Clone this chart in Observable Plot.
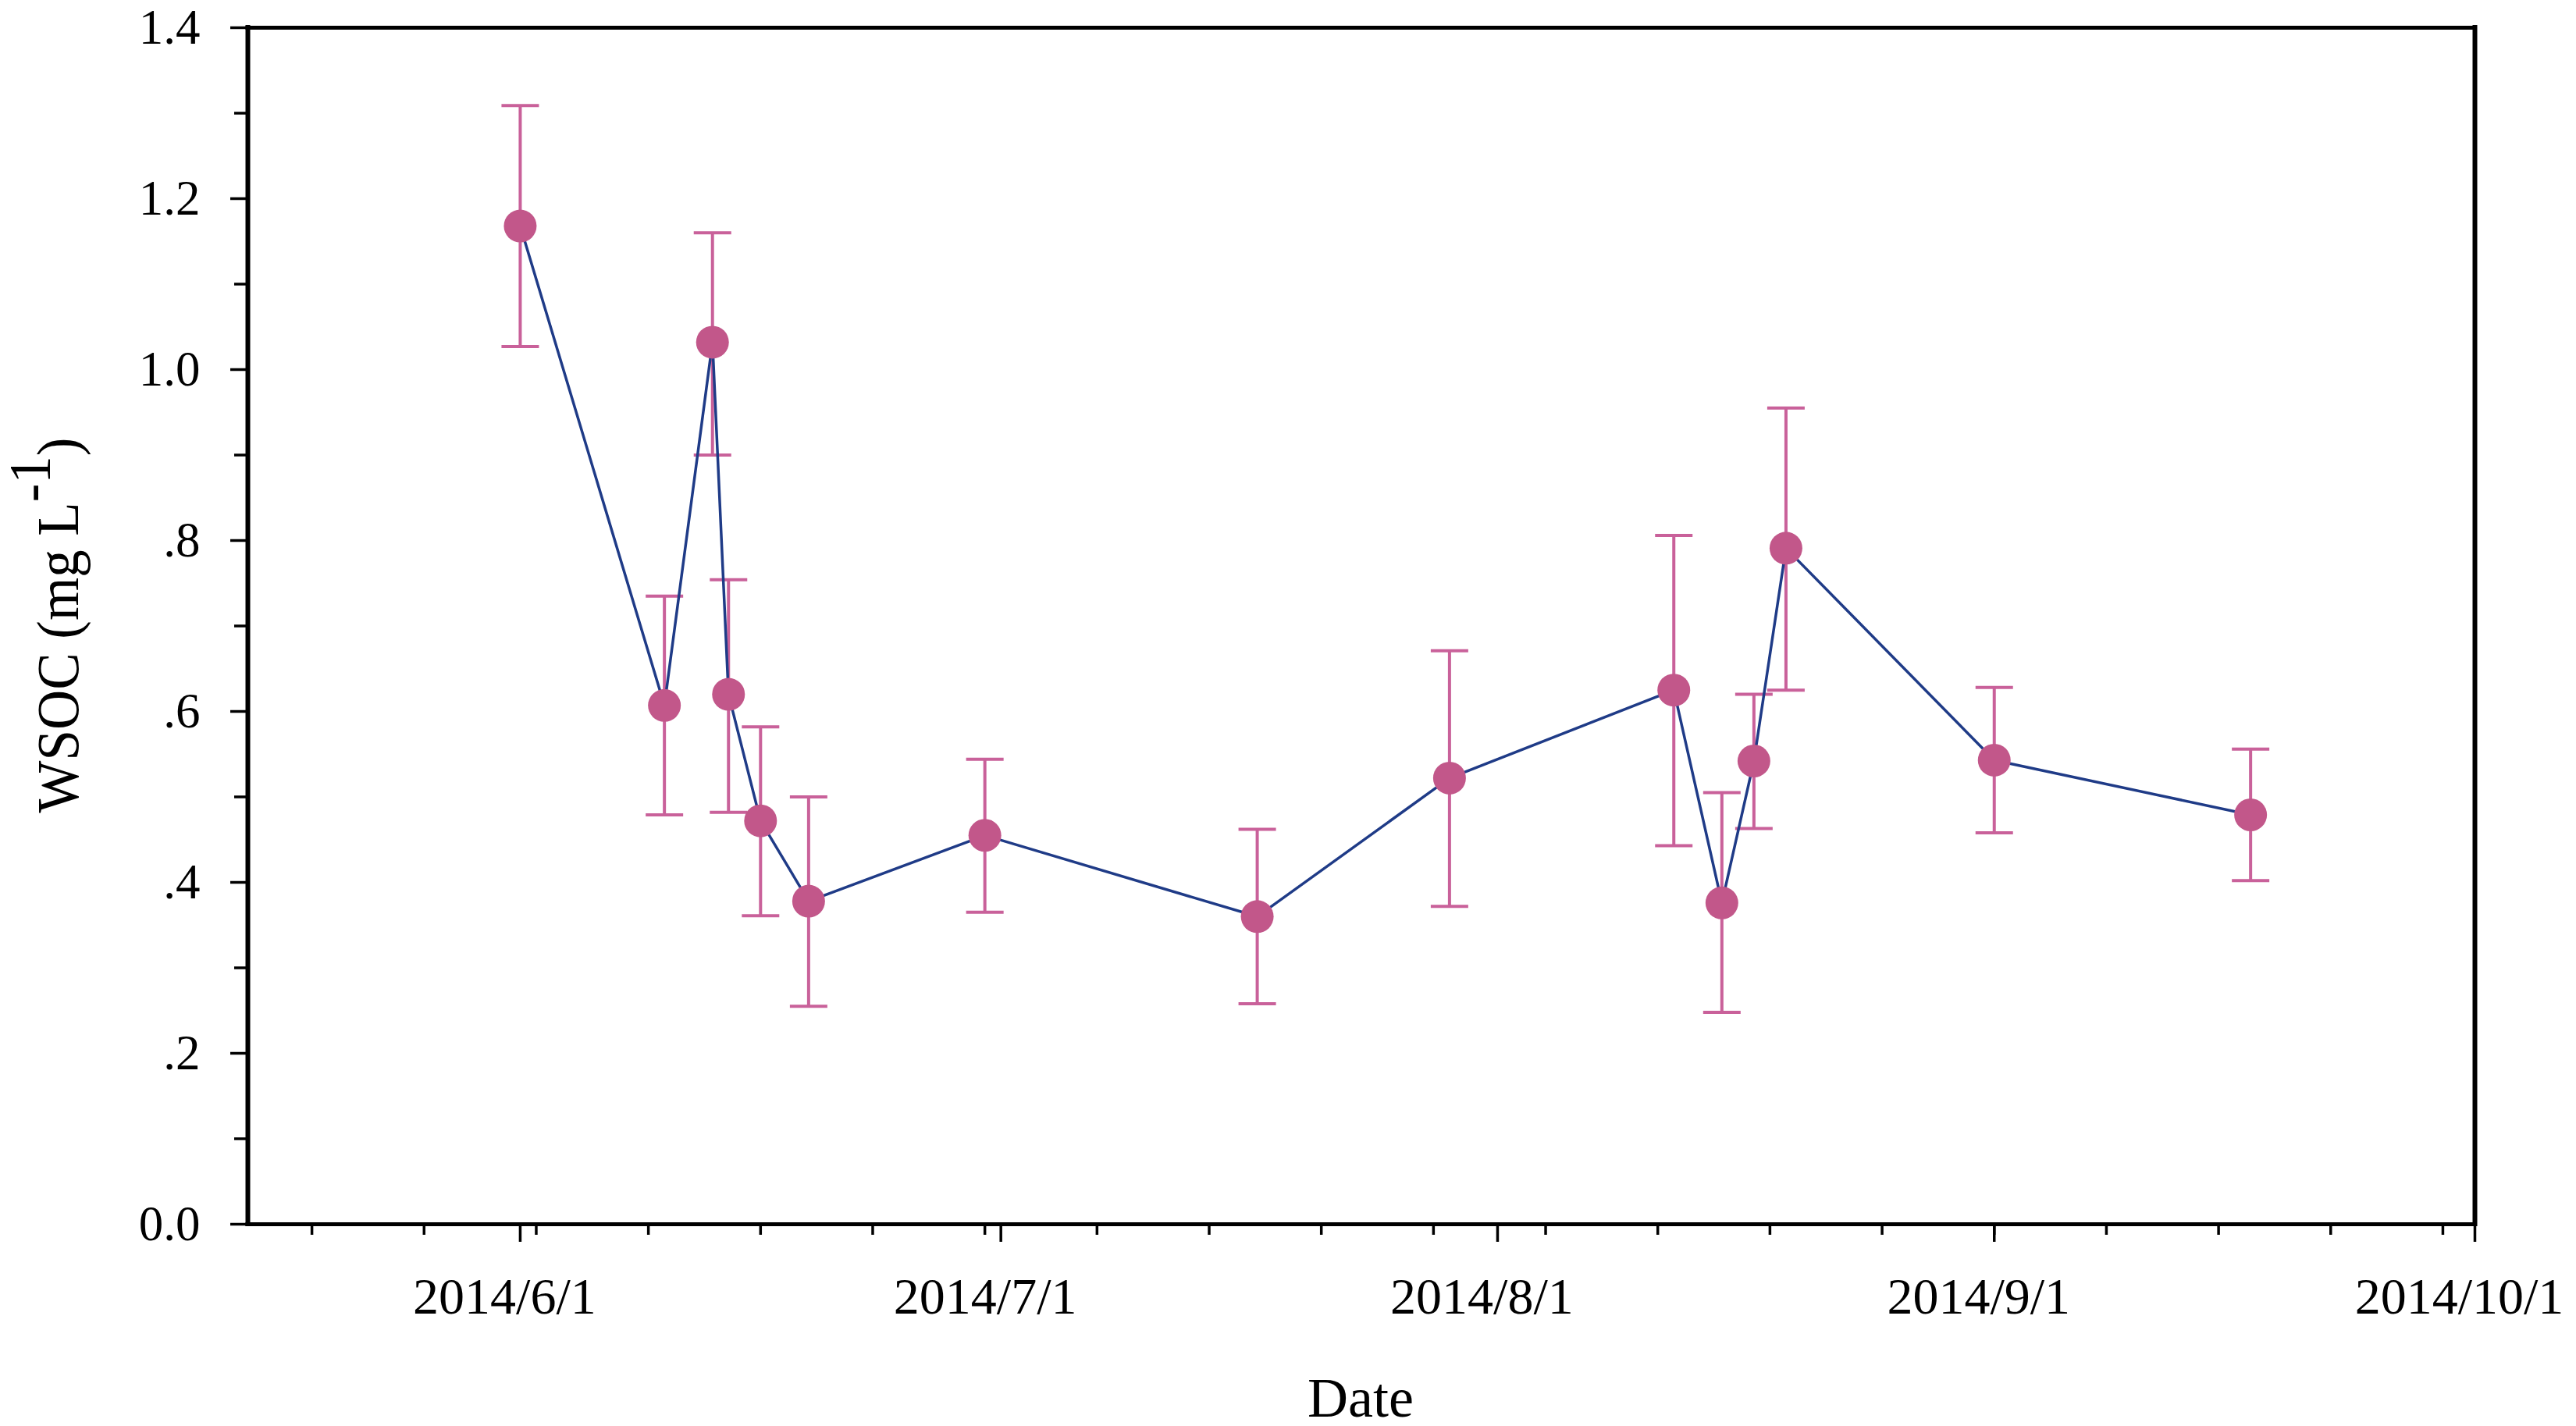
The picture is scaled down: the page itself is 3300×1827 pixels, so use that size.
<!DOCTYPE html>
<html>
<head>
<meta charset="utf-8">
<script src="https://cdn.jsdelivr.net/npm/d3@7"></script>
<script src="https://cdn.jsdelivr.net/npm/@observablehq/plot@0.6"></script>
<style>
  html, body { margin: 0; padding: 0; background: #ffffff; }
  #chart { width: 3300px; height: 1827px; }
</style>
</head>
<body>
<div id="chart"></div>
<script>
// ---- data ----
const dates = ["2014-06-01","2014-06-10","2014-06-13","2014-06-14","2014-06-16","2014-06-19","2014-06-30",
               "2014-07-17","2014-07-29","2014-08-12","2014-08-15","2014-08-17","2014-08-19","2014-09-01","2014-09-17"];
const wsoc  = [1.168, 0.607, 1.032, 0.620, 0.472, 0.378, 0.455, 0.360, 0.522, 0.625, 0.376, 0.542, 0.791, 0.543, 0.479];
const upper = [1.309, 0.735, 1.160, 0.754, 0.582, 0.500, 0.544, 0.462, 0.671, 0.806, 0.505, 0.620, 0.955, 0.628, 0.556];
const lower = [1.027, 0.479, 0.900, 0.482, 0.361, 0.255, 0.365, 0.258, 0.372, 0.443, 0.248, 0.463, 0.625, 0.458, 0.402];

const yTicks      = [0, 0.2, 0.4, 0.6, 0.8, 1.0, 1.2, 1.4];
const yTickLabels = ["0.0", ".2", ".4", ".6", ".8", "1.0", "1.2", "1.4"];
const yMinorTicks = [0.1, 0.3, 0.5, 0.7, 0.9, 1.1, 1.3];
const xMajorTicks = ["2014-06-01", "2014-07-01", "2014-08-01", "2014-09-01", "2014-10-01"];
const xDomain     = ["2014-05-15", "2014-10-01"];
const yDomain     = [0, 1.4];

const xTitle = "Date";
const yTitleMain = "WSOC (mg L";
const yTitleSup = "-1";
const yTitleEnd = ")";

// ---- styles ----
const dotColor = "#c2578a";
const barColor = "#c9619a";
const lineColor = "#1f3b87";
const fontFamily = "'Liberation Serif', 'Times New Roman', serif";

const parse = d3.utcParse("%Y-%m-%d");
const data = dates.map((d, i) => ({date: parse(d), value: wsoc[i], hi: upper[i], lo: lower[i]}));
const xDom = xDomain.map(parse);
const xMajor = xMajorTicks.map(parse);
const xMinor = d3.utcMonday.range(xDom[0], xDom[1]);

// horizontal cap symbol for error bars
const capSymbol = {
  draw(context, size) {
    const w = Math.sqrt(size / Math.PI);
    context.moveTo(-w, 0);
    context.lineTo(w, 0);
  }
};

const fmtDate = d => `${d.getUTCFullYear()}/${d.getUTCMonth() + 1}/${d.getUTCDate()}`;

const plot = Plot.plot({
  width: 3300,
  height: 1827,
  marginLeft: 317,
  marginRight: 130,
  marginTop: 35,
  marginBottom: 259,
  style: {fontFamily, fontSize: "64px", background: "#ffffff", overflow: "visible"},
  x: {type: "utc", domain: xDom},
  y: {domain: yDomain},
  marks: [
    // minor ticks
    Plot.axisY({ticks: yMinorTicks, tickSize: 17, text: null, strokeWidth: 3.5}),
    Plot.axisX({ticks: xMinor, tickSize: 14, text: null, strokeWidth: 3.5}),
    // major ticks
    Plot.axisY({ticks: yTicks, tickSize: 22, tickPadding: 39, strokeWidth: 3.5,
                tickFormat: d => yTickLabels[yTicks.indexOf(d)], fontSize: 63, label: null}),
    Plot.axisX({ticks: xMajor, tickSize: 23, text: null, strokeWidth: 3.5, label: null}),
    // x tick labels (slightly left of their ticks, as in the original)
    Plot.axisX({ticks: xMajor, tickSize: 0, tickPadding: 68, tickFormat: fmtDate,
                fontSize: 66, dx: -20, label: null}),
    // frame
    Plot.ruleY(yDomain, {stroke: "black", strokeWidth: 5, strokeLinecap: "square"}),
    Plot.ruleX(xDom, {stroke: "black", strokeWidth: 6, strokeLinecap: "square"}),
    // error bars
    Plot.ruleX(data, {x: "date", y1: "lo", y2: "hi", stroke: barColor, strokeWidth: 4}),
    Plot.dot(data, {x: "date", y: "hi", symbol: capSymbol, r: 24, fill: "none", stroke: barColor, strokeWidth: 4}),
    Plot.dot(data, {x: "date", y: "lo", symbol: capSymbol, r: 24, fill: "none", stroke: barColor, strokeWidth: 4}),
    // series line
    Plot.line(data, {x: "date", y: "value", stroke: lineColor, strokeWidth: 3.5}),
    // points
    Plot.dot(data, {x: "date", y: "value", r: 21, fill: dotColor, stroke: "none"})
  ]
});

document.getElementById("chart").appendChild(plot);

const svg = d3.select(plot);
// y-axis title with raised exponent
const g = svg.append("g").attr("transform", "translate(100,801) rotate(-90) scale(0.934,1)");
const t = g.append("text")
  .attr("text-anchor", "middle")
  .attr("font-family", fontFamily)
  .attr("font-size", 76)
  .attr("fill", "black");
t.append("tspan").text(yTitleMain);
t.append("tspan").attr("dy", -36).text(yTitleSup);
t.append("tspan").attr("dy", 36).text(yTitleEnd);

// x-axis title
svg.append("text")
  .attr("x", 1743)
  .attr("y", 1815)
  .attr("text-anchor", "middle")
  .attr("font-family", fontFamily)
  .attr("font-size", 72)
  .attr("fill", "black")
  .text(xTitle);
</script>
</body>
</html>
